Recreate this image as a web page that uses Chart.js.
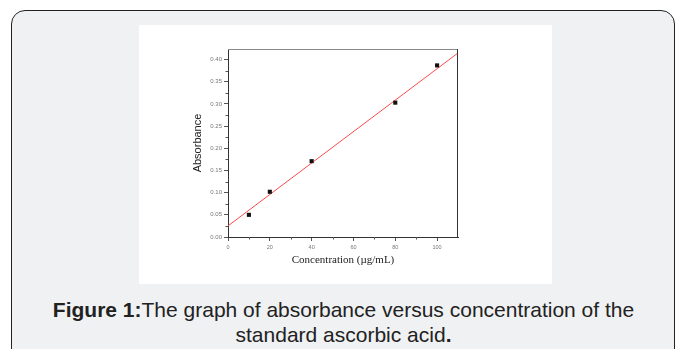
<!DOCTYPE html>
<html lang="en">
  <head>
    <meta charset="UTF-8" />
    <script src="https://cdn.jsdelivr.net/npm/chart.js@4.4.0/dist/chart.umd.min.js"></script>
    <title>Absorbance vs concentration</title>
    <style>
      html, body { margin: 0; padding: 0; background: #fff; width: 675px; height: 349px; overflow: hidden; }
      #box {
        position: absolute; left: 11px; top: 10px; width: 664px; height: 360px;
        box-sizing: border-box; border: 1.5px solid #222; border-radius: 14px;
        background: #f0f1f3;
      }
      #panel { position: absolute; left: 139px; top: 25px; width: 413px; height: 259px; background: #fff; }
      #caption {
        position: absolute; left: 12px; top: 297px; width: 663px; text-align: center;
        font-family: "Liberation Sans", Arial, sans-serif; font-size: 21px; line-height: 25px; color: #222;
      }
    </style>
  </head>
  <body>
    <div id="box"></div>
    <div id="panel"><canvas id="myChart" width="413" height="259"></canvas></div>
    <div id="caption"><b>Figure 1:</b>The graph of absorbance versus concentration of the<br />standard ascorbic acid<b>.</b></div>
    <script>
      // measured points
      const concentration = [10, 20, 40, 80, 100];
      const absorbance = [0.050, 0.102, 0.171, 0.303, 0.387];
      // fitted line, read at both ends of the x axis
      const fitX = [0, 110];
      const fitY = [0.025, 0.415];
      // minor ticks (majors come from stepSize)
      const yMinor = [0.025, 0.075, 0.125, 0.175, 0.225, 0.275, 0.325, 0.375];
      const xMinor = [10, 30, 50, 70, 90];

      // frame on top/right + small minor ticks
      const framePlugin = {
        id: "frame",
        afterDraw(chart) {
          const ctx = chart.ctx;
          const a = chart.chartArea;
          const sx = chart.scales.x;
          const sy = chart.scales.y;
          ctx.save();
          ctx.lineWidth = 1;
          ctx.strokeStyle = "#8a8a8a";
          ctx.beginPath();
          ctx.moveTo(a.left, a.top + 0.5);
          ctx.lineTo(a.right, a.top + 0.5);
          ctx.stroke();
          ctx.strokeStyle = "#333";
          ctx.beginPath();
          ctx.moveTo(a.right - 0.5, a.top);
          ctx.lineTo(a.right - 0.5, a.bottom);
          ctx.stroke();
          ctx.strokeStyle = "#555";
          ctx.beginPath();
          yMinor.forEach(function (v) {
            var p = Math.round(sy.getPixelForValue(v)) + 0.5;
            ctx.moveTo(a.left - 2.5, p);
            ctx.lineTo(a.left, p);
          });
          xMinor.forEach(function (v) {
            var p = Math.round(sx.getPixelForValue(v)) + 0.5;
            ctx.moveTo(p, a.bottom);
            ctx.lineTo(p, a.bottom + 2.5);
          });
          ctx.stroke();
          ctx.restore();
        },
      };

      var ctx = document.getElementById("myChart");
      var config = {
        type: "scatter",
        data: {
          datasets: [
            {
              label: "fit",
              data: fitX.map((x, i) => ({ x: x, y: fitY[i] })),
              showLine: true,
              borderColor: "#ff4a4a",
              borderWidth: 1,
              pointRadius: 0,
              order: 2,
            },
            {
              label: "Absorbance",
              data: concentration.map((x, i) => ({ x: x, y: absorbance[i] })),
              pointStyle: "rect",
              pointRadius: 2.9,
              backgroundColor: "#111",
              borderColor: "#111",
              borderWidth: 0,
              order: 1,
            },
          ],
        },
        options: {
          responsive: false,
          animation: false,
          devicePixelRatio: 1,
          layout: { padding: { left: 0, top: 24, right: 94, bottom: 0 } },
          plugins: { legend: { display: false }, tooltip: { enabled: false } },
          scales: {
            x: {
              type: "linear",
              min: 0,
              max: 110,
              afterFit: (s) => { s.height = 47; },
              grid: { drawOnChartArea: false, tickLength: 4, color: "#555" },
              border: { color: "#333", width: 1 },
              ticks: {
                stepSize: 20,
                includeBounds: false,
                padding: 3,
                color: "#777",
                font: { family: "Liberation Sans", size: 5.5 },
              },
              title: {
                display: true,
                text: "Concentration (µg/mL)",
                color: "#222",
                font: { family: "Liberation Serif", size: 11 },
                padding: { top: 0, bottom: 17 },
              },
            },
            y: {
              type: "linear",
              min: 0,
              max: 0.424,
              afterFit: (s) => { s.width = 89; },
              grid: { drawOnChartArea: false, tickLength: 4, color: "#555" },
              border: { color: "#333", width: 1 },
              ticks: {
                stepSize: 0.05,
                includeBounds: false,
                padding: 2,
                color: "#777",
                font: { family: "Liberation Sans", size: 6 },
                callback: (v) => v.toFixed(2),
              },
              title: {
                display: true,
                text: "Absorbance",
                color: "#222",
                font: { family: "Liberation Sans", size: 11 },
                padding: { top: 52, bottom: 0 },
              },
            },
          },
        },
        plugins: [framePlugin],
      };
      var myChart = new Chart(ctx, config);
    </script>
  </body>
</html>
